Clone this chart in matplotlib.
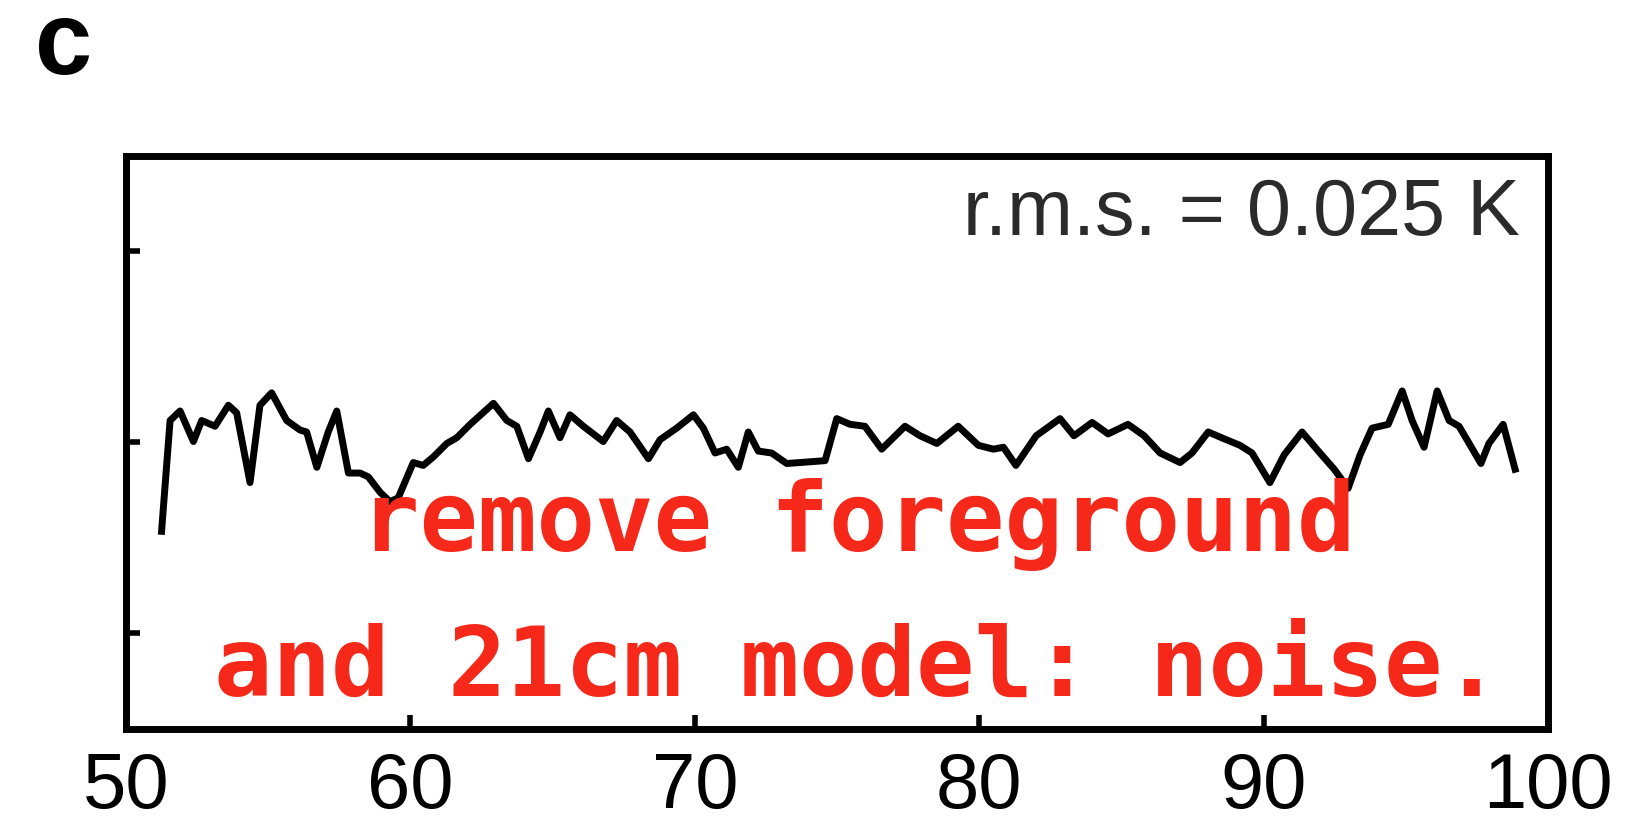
import matplotlib
matplotlib.use("Agg")
import matplotlib.pyplot as plt

# residual after removing foreground + 21cm model (MHz, K)
freq = [51.25, 51.55, 51.90, 52.37, 52.66, 53.13, 53.60, 53.89, 54.36, 54.71,
        55.12, 55.65, 56.12, 56.35, 56.71, 57.11, 57.41, 57.82, 58.23, 58.52,
        58.93, 59.28, 59.57, 60.10, 60.45, 60.81, 61.28, 61.63, 62.10, 62.92,
        63.39, 63.74, 64.15, 64.56, 64.85, 65.26, 65.61, 66.08, 66.78, 67.25,
        67.72, 68.37, 68.78, 69.36, 69.95, 70.30, 70.71, 71.12, 71.53, 71.88,
        72.23, 72.70, 73.23, 73.70, 74.58, 74.99, 75.46, 75.98, 76.57, 77.39,
        77.92, 78.51, 79.26, 79.97, 80.50, 80.85, 81.29, 82.00, 82.84, 83.33,
        83.97, 84.53, 85.23, 85.80, 86.36, 87.06, 87.48, 88.05, 88.68, 89.17,
        89.59, 90.22, 90.72, 91.35, 91.98, 92.48, 92.97, 93.39, 93.81, 94.38,
        94.87, 95.22, 95.64, 96.10, 96.52, 96.87, 97.64, 97.92, 98.42, 98.84]
resid = [-0.093, 0.023, 0.033, 0.001, 0.023, 0.017, 0.039, 0.031, -0.042, 0.039,
         0.052, 0.023, 0.013, 0.011, -0.026, 0.011, 0.033, -0.032, -0.032, -0.036,
         -0.052, -0.062, -0.058, -0.021, -0.024, -0.015, -0.001, 0.005, 0.019, 0.041,
         0.023, 0.017, -0.017, 0.011, 0.033, 0.005, 0.029, 0.017, 0.001, 0.023,
         0.011, -0.017, 0.003, 0.015, 0.029, 0.015, -0.011, -0.007, -0.026, 0.011,
         -0.009, -0.011, -0.022, -0.021, -0.019, 0.025, 0.019, 0.017, -0.007, 0.017,
         0.007, -0.001, 0.017, -0.003, -0.007, -0.005, -0.024, 0.007, 0.025, 0.007,
         0.021, 0.009, 0.019, 0.007, -0.011, -0.021, -0.011, 0.011, 0.003, -0.003,
         -0.011, -0.042, -0.013, 0.011, -0.011, -0.028, -0.048, -0.013, 0.015, 0.019,
         0.054, 0.023, -0.005, 0.054, 0.023, 0.017, -0.022, -0.001, 0.019, -0.028]

xticks = [50, 60, 70, 80, 90, 100]
yticks = [-0.2, 0.0, 0.2]

plt.rcParams['font.family'] = ['Liberation Sans', 'DejaVu Sans']

fig = plt.figure(figsize=(16.28, 8.24), dpi=100)
ax = fig.add_axes([0.0774, 0.1153, 0.8735, 0.6954])

ax.plot(freq, resid, color='black', lw=5, solid_joinstyle='round')

ax.set_xlim(50, 100)
ax.set_ylim(-0.3, 0.3)
ax.set_xticks(xticks)
ax.set_yticks(yticks)
ax.set_yticklabels([])
ax.tick_params(direction='in', length=10, width=4, labelsize=56, pad=16,
               top=False, right=False)
for s in ax.spines.values():
    s.set_linewidth(5)

ax.text(0.98, 0.862, 'r.m.s. = 0.025 K', transform=ax.transAxes,
        ha='right', va='baseline', fontsize=57, color='#2b2b2b')

fig.text(0.0215, 0.91, 'c', fontsize=74, fontweight='bold', ha='left', va='baseline')

red = '#f5281a'
fig.text(0.527, 0.3313, 'remove foreground', fontsize=70, color=red,
         family='DejaVu Sans Mono', fontweight='bold', ha='center', va='baseline')
fig.text(0.527, 0.1553, 'and 21cm model: noise.', fontsize=70, color=red,
         family='DejaVu Sans Mono', fontweight='bold', ha='center', va='baseline')

fig.savefig('out.png', dpi=100, facecolor='white')
